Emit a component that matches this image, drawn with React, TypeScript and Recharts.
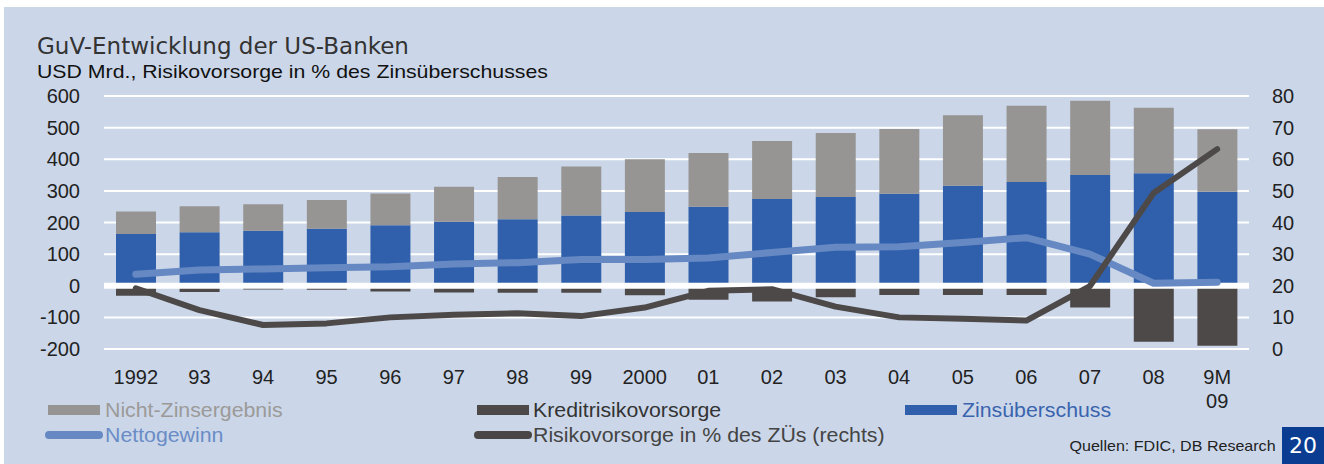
import React from "react";
import {
  ComposedChart,
  Bar,
  Line,
  XAxis,
  YAxis,
  CartesianGrid,
  ReferenceLine,
} from "recharts";

// Werte in USD Mrd. (links) bzw. % des Zinsüberschusses (rechts)
const years = ["1992", "93", "94", "95", "96", "97", "98", "99", "2000", "01", "02", "03", "04", "05", "06", "07", "08", "9M|09"];
const zinsueberschuss = [164, 169, 174, 180, 191, 202, 210, 222, 233, 250, 274, 281, 291, 316, 328, 350, 356, 297];
const nichtZinsergebnis = [71, 82, 84, 91, 101, 111, 134, 155, 167, 170, 184, 202, 205, 223, 241, 235, 207, 198];
const kreditrisikovorsorge = [-32, -20, -12, -13, -18, -21, -22, -22, -30, -44, -50, -36, -29, -29, -29, -69, -177, -190];
const nettogewinn = [36, 50, 53, 57, 60, 69, 73, 83, 83, 88, 105, 122, 123, 137, 152, 100, 8, 11];
const risikovorsorgeQuote = [19.2, 12.3, 7.6, 8.1, 10, 10.8, 11.3, 10.4, 13.1, 18.4, 18.9, 13.4, 10, 9.6, 9, 19.9, 49.3, 63.2];

const leftTicks = [-200, -100, 0, 100, 200, 300, 400, 500, 600];
const rightTicks = [0, 10, 20, 30, 40, 50, 60, 70, 80];

const data = years.map((y, i) => ({
  year: y,
  zins: zinsueberschuss[i],
  nichtZins: nichtZinsergebnis[i],
  kredit: kreditrisikovorsorge[i],
  netto: nettogewinn[i],
  quote: risikovorsorgeQuote[i],
}));

const C = {
  bg: "#cbd7e9",
  blue: "#3060ab",
  gray: "#979593",
  dark: "#4d4949",
  light: "#6689c3",
  text: "#222",
};

const font = "'Liberation Sans', Arial, sans-serif";

function YearTick({ x, y, payload }: any) {
  const parts = String(payload.value).split("|");
  return (
    <text x={x} y={y} textAnchor="middle" fill={C.text} fontSize={20} fontFamily={font}>
      {parts.map((p, i) => (
        <tspan key={i} x={x} dy={i === 0 ? 27 : 24}>
          {p}
        </tspan>
      ))}
    </text>
  );
}

function Swatch({ left, top, color, line }: { left: number; top: number; color: string; line?: boolean }) {
  return (
    <div
      style={{
        position: "absolute",
        left,
        top,
        width: line ? 58 : 52,
        height: line ? 8 : 10,
        background: color,
        borderRadius: line ? 4 : 0,
      }}
    />
  );
}

// Texte im Original sind leicht in die Breite gezogen
function LegendText({ left, top, color, children }: any) {
  return (
    <div
      style={{
        position: "absolute",
        left,
        top,
        fontSize: 20,
        lineHeight: "20px",
        color,
        fontFamily: font,
        whiteSpace: "nowrap",
        transform: "scaleX(1.065)",
        transformOrigin: "left center",
      }}
    >
      {children}
    </div>
  );
}

export default function App() {
  return (
    <div style={{ position: "absolute", left: 0, top: 0, width: 1324, height: 464, background: "#fff", overflow: "hidden" }}>
      <div style={{ position: "absolute", left: 4, top: 7, right: 0, bottom: 0, background: C.bg }} />

      {/* Titel */}
      <div style={{ position: "absolute", left: 37, top: 33, fontSize: 23, lineHeight: "26px", color: "#333", fontFamily: "'DejaVu Sans', sans-serif", whiteSpace: "nowrap" }}>
        GuV-Entwicklung der US-Banken
      </div>
      <div
        style={{
          position: "absolute",
          left: 37,
          top: 61,
          fontSize: 19,
          lineHeight: "22px",
          color: "#111",
          fontFamily: font,
          whiteSpace: "nowrap",
          transform: "scaleX(1.12)",
          transformOrigin: "left center",
        }}
      >
        USD Mrd., Risikovorsorge in % des Zinsüberschusses
      </div>

      <div style={{ position: "absolute", left: 0, top: 0 }}>
        <ComposedChart
          width={1324}
          height={464}
          data={data}
          stackOffset="sign"
          barSize={40}
          margin={{ top: 96, right: 0, bottom: 85, left: 0 }}
        >
          <CartesianGrid vertical={false} stroke="#ffffff" strokeWidth={2} yAxisId="left" />
          <XAxis dataKey="year" tick={<YearTick />} tickLine={false} axisLine={false} height={30} interval={0} />
          <YAxis
            yAxisId="left"
            domain={[-200, 600]}
            ticks={leftTicks}
            width={104}
            tickLine={false}
            axisLine={false}
            tickMargin={18}
            tick={{ fill: C.text, fontSize: 20, fontFamily: font }}
          />
          <YAxis
            yAxisId="right"
            orientation="right"
            domain={[0, 80]}
            ticks={rightTicks}
            width={75}
            tickLine={false}
            axisLine={false}
            tickMargin={17}
            tick={{ fill: C.text, fontSize: 20, fontFamily: font, textAnchor: "start" }}
          />
          <Bar yAxisId="left" dataKey="zins" stackId="a" fill={C.blue} isAnimationActive={false} />
          <Bar yAxisId="left" dataKey="nichtZins" stackId="a" fill={C.gray} isAnimationActive={false} />
          <Bar yAxisId="left" dataKey="kredit" stackId="a" fill={C.dark} isAnimationActive={false} />
          <ReferenceLine yAxisId="left" y={0} stroke="#ffffff" strokeWidth={6} />
          <Line
            yAxisId="left"
            type="linear"
            dataKey="netto"
            stroke={C.light}
            strokeWidth={7}
            strokeLinecap="round"
            strokeLinejoin="round"
            dot={false}
            isAnimationActive={false}
          />
          <Line
            yAxisId="right"
            type="linear"
            dataKey="quote"
            stroke={C.dark}
            strokeWidth={6}
            strokeLinecap="round"
            strokeLinejoin="round"
            dot={false}
            isAnimationActive={false}
          />
        </ComposedChart>
      </div>

      {/* Legende */}
      <Swatch left={48} top={405} color={C.gray} />
      <LegendText left={105} top={400} color="#9c9a98">Nicht-Zinsergebnis</LegendText>
      <Swatch left={477} top={405} color={C.dark} />
      <LegendText left={533} top={400} color="#333">Kreditrisikovorsorge</LegendText>
      <Swatch left={905} top={405} color={C.blue} />
      <LegendText left={962} top={400} color="#3a64ae">Zinsüberschuss</LegendText>
      <Swatch left={45} top={431} color={C.light} line />
      <LegendText left={105} top={425} color="#6a8cc6">Nettogewinn</LegendText>
      <Swatch left={474} top={431} color="#4a4646" line />
      <LegendText left={533} top={425} color="#444">Risikovorsorge in % des ZÜs (rechts)</LegendText>

      <div
        style={{
          position: "absolute",
          right: 48,
          top: 437,
          fontSize: 15,
          lineHeight: "18px",
          color: "#222",
          fontFamily: font,
          whiteSpace: "nowrap",
          transform: "scaleX(1.07)",
          transformOrigin: "right center",
        }}
      >
        Quellen: FDIC, DB Research
      </div>
      <div
        style={{
          position: "absolute",
          left: 1282,
          top: 427,
          width: 42,
          height: 37,
          background: "#0a3d91",
          color: "#fff",
          fontSize: 22,
          lineHeight: "37px",
          textAlign: "center",
          fontFamily: "'DejaVu Sans', sans-serif",
        }}
      >
        20
      </div>
    </div>
  );
}
